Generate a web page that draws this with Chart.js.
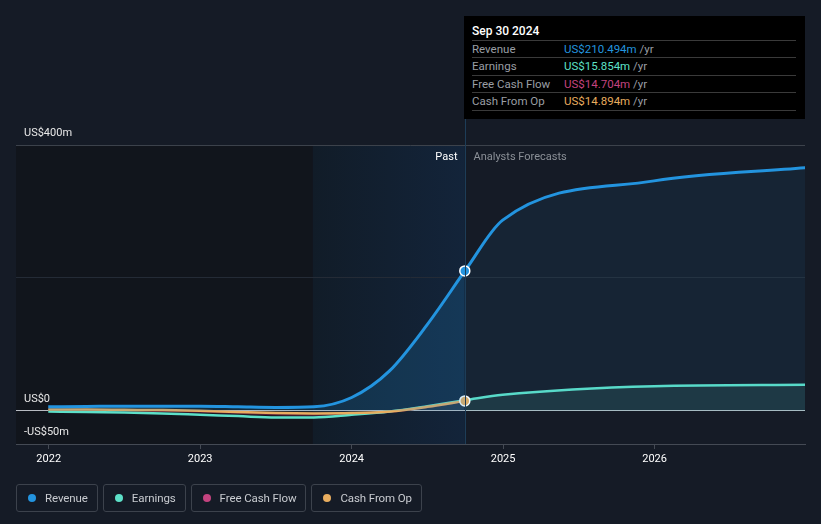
<!DOCTYPE html>
<html>
<head>
<meta charset="utf-8">
<script src="https://cdn.jsdelivr.net/npm/chart.js@4.4.1/dist/chart.umd.min.js"></script>
<style>
  html, body { margin: 0; padding: 0; background: #151b26; }
  body { width: 821px; height: 524px; position: relative; overflow: hidden; font-family: Roboto, "Noto Sans", sans-serif; }
  #wrap { position: absolute; left: 0; top: 0; width: 821px; height: 524px; }
  .tip { position: absolute; left: 464px; top: 16px; width: 341px; height: 103px; background: #000; }
  .tip .ttl { position: absolute; left: 8px; top: 8px; color: #fff; font-size: 12px; font-weight: 500; }
  .tip .row { position: absolute; left: 8px; width: 324px; height: 17px; border-top: 1px solid #3a3a3a; font-size: 11.5px; line-height: 17px; color: #9a9ea4; }
  .tip .row .v { position: absolute; left: 92px; }
  .tip .row .u { color: #9a9ea4; }
  .tip .last { position: absolute; left: 8px; top: 94px; width: 324px; border-top: 1px solid #3a3a3a; }
  .legend { position: absolute; top: 484px; left: 16px; display: flex; gap: 5px; }
  .legend div { border: 1px solid #3c424c; border-radius: 3px; box-sizing: border-box; height: 28px; padding: 0 9px 0 11px; display: flex; align-items: center; color: #c8cbd0; font-size: 11.5px; letter-spacing: -0.1px; }
  .legend span.d { width: 8px; height: 8px; border-radius: 50%; display: inline-block; margin-right: 9px; }
</style>
</head>
<body>
<div id="wrap"><canvas id="myChart" width="821" height="524"></canvas></div>

<div class="tip">
  <div class="ttl">Sep 30 2024</div>
  <div class="row" style="top:24px">Revenue<span class="v"><span style="color:#2394df">US$210.494m</span> <span class="u">/yr</span></span></div>
  <div class="row" style="top:41px">Earnings<span class="v"><span style="color:#5de0c8">US$15.854m</span> <span class="u">/yr</span></span></div>
  <div class="row" style="top:59px">Free Cash Flow<span class="v"><span style="color:#c4437f">US$14.704m</span> <span class="u">/yr</span></span></div>
  <div class="row" style="top:76px">Cash From Op<span class="v"><span style="color:#e8ad5f">US$14.894m</span> <span class="u">/yr</span></span></div>
  <div class="last"></div>
</div>

<div class="legend">
  <div><span class="d" style="background:#2394df"></span>Revenue</div>
  <div><span class="d" style="background:#5de0c8"></span>Earnings</div>
  <div><span class="d" style="background:#c4437f"></span>Free Cash Flow</div>
  <div><span class="d" style="background:#e8ad5f"></span>Cash From Op</div>
</div>

<script>
// decimal years
const pastDates = [2021.997, 2022.25, 2022.5, 2022.75, 2023.0, 2023.25, 2023.5, 2023.75, 2024.0, 2024.25, 2024.5, 2024.747];
const revenuePast = [6, 6.5, 7, 7, 7, 6, 5, 6, 20, 60, 130, 210.494];
const earningsPast = [-1, -2, -2.5, -4, -6, -8, -10, -10, -6, -1, 7, 15.854];
const fcfPast = [1, 1, 0.5, 0, -1, -3, -5, -5.5, -4.5, -1.5, 5.5, 14.704];
const cfoPast = [2, 2, 1.5, 1, 0, -2, -3.5, -4, -3.5, -1, 6, 14.894];

const forecastDates = [2024.747, 2024.997, 2025.997, 2026.997];
const revenueForecast = [210.494, 287, 346, 366];
const earningsForecast = [15.854, 24, 37, 39];

const yearTicks = [2022, 2023, 2024, 2025, 2026];
const yTicks = [-50, 0, 200, 400];
const yTickLabels = { '-50': '-US$50m', '0': 'US$0', '400': 'US$400m' };

const nowDate = 2024.747;
const pastStart = 2023.744;

const pts = (xs, ys) => xs.map((x, i) => ({ x: x, y: ys[i] }));

const bgPlugin = {
  id: 'bg',
  beforeDraw(chart) {
    const { ctx, chartArea: a, scales: { x } } = chart;
    ctx.save();
    const x0 = x.getPixelForValue(pastStart);
    const x1 = x.getPixelForValue(nowDate);
    ctx.fillStyle = '#11151c';
    ctx.fillRect(a.left, a.top, x0 - a.left, a.bottom - a.top);
    const g = ctx.createLinearGradient(x0, 0, x1, 0);
    g.addColorStop(0, '#111c28');
    g.addColorStop(1, '#13243a');
    ctx.fillStyle = g;
    ctx.fillRect(x0, a.top, x1 - x0, a.bottom - a.top);
    ctx.restore();
  },
  afterDraw(chart) {
    const { ctx, chartArea: a, scales: { x } } = chart;
    const xn = Math.round(x.getPixelForValue(nowDate)) + 0.5;
    ctx.save();
    ctx.strokeStyle = '#1d3d58';
    ctx.lineWidth = 1;
    ctx.beginPath();
    ctx.moveTo(xn, 16);
    ctx.lineTo(xn, a.bottom);
    ctx.stroke();
    ctx.font = '11px Roboto, sans-serif';
    ctx.textBaseline = 'middle';
    ctx.textAlign = 'right';
    ctx.fillStyle = '#ffffff';
    ctx.fillText('Past', xn - 8, 157);
    ctx.textAlign = 'left';
    ctx.fillStyle = '#8b9097';
    ctx.fillText('Analysts Forecasts', xn + 8, 157);
    ctx.restore();
  }
};

const line = (label, data, color, extra) => Object.assign({
  label: label,
  data: data,
  borderColor: color,
  borderWidth: 2.5,
  pointRadius: 0,
  cubicInterpolationMode: 'monotone',
  fill: false
}, extra);

const lastDot = (n, color) => ({
  pointRadius: (c) => c.dataIndex === n - 1 ? 5 : 0,
  pointBackgroundColor: color,
  pointBorderColor: '#ffffff',
  pointBorderWidth: 1.5
});

new Chart(document.getElementById('myChart'), {
  type: 'line',
  data: {
    datasets: [
      line('Revenue', pts(pastDates, revenuePast), '#2394df', Object.assign({ borderWidth: 3, order: 0, fill: 'origin', backgroundColor: 'rgba(35,148,223,0.18)' }, lastDot(pastDates.length, '#2394df'))),
      line('Revenue forecast', pts(forecastDates, revenueForecast), '#2394df', { borderWidth: 3, order: 0, fill: 'origin', backgroundColor: 'rgba(35,148,223,0.08)' }),
      line('Cash From Op', pts(pastDates, cfoPast), '#e8ad5f', Object.assign({ order: 1, fill: 'origin', backgroundColor: 'rgba(160,160,160,0.12)' }, lastDot(pastDates.length, '#e8ad5f'))),
      line('Earnings', pts(pastDates, earningsPast), '#5de0c8', { order: 2 }),
      line('Earnings forecast', pts(forecastDates, earningsForecast), '#5de0c8', { order: 2, fill: 'origin', backgroundColor: 'rgba(93,224,200,0.12)' }),
      line('Free Cash Flow', pts(pastDates, fcfPast), '#5a1e3a', { order: 3 })
    ]
  },
  options: {
    responsive: false,
    animation: false,
    events: [],
    layout: { padding: { left: 16, right: 16, top: 145, bottom: 50 } },
    plugins: { legend: { display: false }, tooltip: { enabled: false } },
    scales: {
      x: {
        type: 'linear',
        min: 2021.784,
        max: 2026.993,
        afterBuildTicks: (s) => { s.ticks = yearTicks.map(v => ({ value: v })); },
        afterFit: (s) => { s.height = 30; },
        ticks: {
          color: '#ffffff',
          font: { size: 11, family: 'Roboto' },
          padding: 4,
          maxRotation: 0,
          callback: (v) => String(v)
        },
        grid: { drawOnChartArea: false, drawTicks: true, tickLength: 5, color: '#444a54' },
        border: { color: '#444a54' }
      },
      y: {
        min: -50,
        max: 400,
        afterBuildTicks: (s) => { s.ticks = yTicks.map(v => ({ value: v })); },
        afterFit: (s) => { s.width = 0; },
        ticks: {
          mirror: true,
          padding: 8,
          labelOffset: -12,
          color: '#e8e8e8',
          font: { size: 11, family: 'Roboto' },
          callback: (v) => yTickLabels[String(v)] || ''
        },
        grid: {
          drawTicks: false,
          color: (c) => {
            const v = c.tick ? c.tick.value : null;
            if (v === 0) return '#b8bcc2';
            if (v === 400) return '#3c424b';
            if (v === 200) return '#242b36';
            return 'rgba(0,0,0,0)';
          }
        },
        border: { display: false }
      }
    }
  },
  plugins: [bgPlugin]
});
</script>
</body>
</html>
